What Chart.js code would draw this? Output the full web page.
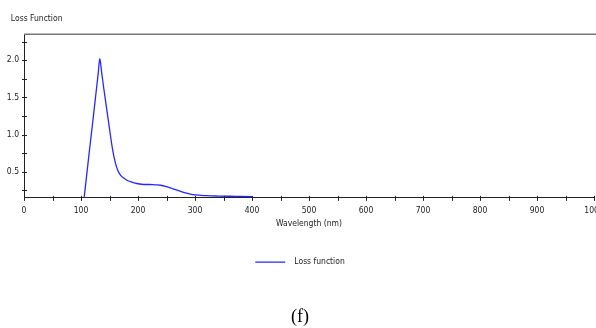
<!DOCTYPE html>
<html>
<head>
<meta charset="utf-8">
<script src="https://cdn.jsdelivr.net/npm/chart.js@4"></script>
<style>
  html, body { margin: 0; padding: 0; background: #fff; }
  #wrap { width: 596px; height: 328px; }
</style>
</head>
<body>
<div id="wrap"><canvas id="loss"></canvas></div>
<script>
// Wavelength (nm) and loss function values
const wavelength = [100, 105, 110, 115, 120, 125, 130, 133, 136, 140, 145, 150, 155, 160, 165, 170, 180, 190, 200, 210, 220, 230, 240, 250, 260, 270, 280, 290, 300, 320, 340, 360, 380, 400];
const lossValues = [-0.2, 0.12, 0.46, 0.8, 1.13, 1.47, 1.81, 2.02, 1.85, 1.62, 1.35, 1.08, 0.82, 0.63, 0.51, 0.45, 0.39, 0.36, 0.34, 0.33, 0.33, 0.325, 0.32, 0.3, 0.275, 0.25, 0.225, 0.205, 0.19, 0.18, 0.175, 0.172, 0.17, 0.168];

// Tick positions
const xTicks = [0, 50, 100, 150, 200, 250, 300, 350, 400, 450, 500, 550, 600, 650, 700, 750, 800, 850, 900, 950, 1000];
const yTicks = [0.25, 0.5, 0.75, 1.0, 1.25, 1.5, 1.75, 2.0, 2.25];

const uiFont = "Tahoma, 'DejaVu Sans Condensed', 'DejaVu Sans', sans-serif";

// axis ticks that cross the axis line, plus the frame's top edge
const crossTicks = {
  id: "crossTicks",
  afterDraw(chart) {
    const { ctx, chartArea, scales } = chart;
    ctx.save();
    ctx.strokeStyle = "#777";
    ctx.lineWidth = 1.5;
    ctx.beginPath();
    ctx.moveTo(chartArea.left, chartArea.top);
    ctx.lineTo(chart.width, chartArea.top);
    ctx.stroke();

    ctx.strokeStyle = "#222";
    ctx.lineWidth = 1;
    ctx.beginPath();
    scales.x.ticks.forEach((t) => {
      const px = Math.round(scales.x.getPixelForValue(t.value)) + 0.5;
      ctx.moveTo(px, chartArea.bottom - 2);
      ctx.lineTo(px, chartArea.bottom + 3);
    });
    scales.y.ticks.forEach((t) => {
      const py = Math.round(scales.y.getPixelForValue(t.value)) + 0.5;
      ctx.moveTo(chartArea.left - 2, py);
      ctx.lineTo(chartArea.left + 3, py);
    });
    ctx.stroke();
    ctx.restore();
  },
};

new Chart(document.getElementById("loss"), {
  type: "line",
  data: {
    datasets: [
      {
        label: "Loss function",
        data: wavelength.map((w, i) => ({ x: w, y: lossValues[i] })),
        borderColor: "#2626ff",
        backgroundColor: "#2626ff",
        borderWidth: 1.3,
        pointRadius: 0,
        cubicInterpolationMode: "monotone",
        fill: false,
      },
    ],
  },
  options: {
    responsive: true,
    maintainAspectRatio: false,
    animation: false,
    layout: { padding: { left: 6, right: 2, top: 0, bottom: 0 } },
    scales: {
      x: {
        type: "linear",
        min: 0,
        max: 1000,
        afterBuildTicks: (s) => { s.ticks = xTicks.map((v) => ({ value: v })); },
        afterFit: (s) => { s.paddingLeft = 0; s.paddingRight = 0; s.height = 31; },
        grid: { drawOnChartArea: false, drawTicks: false },
        border: { color: "#222", width: 1 },
        ticks: {
          padding: 8,
          maxRotation: 0,
          autoSkip: false,
          color: "#222",
          font: { family: uiFont, size: 8.5 },
          callback: (v) => (v % 100 === 0 ? String(v) : ""),
        },
        title: {
          display: true,
          text: "Wavelength (nm)",
          color: "#222",
          font: { family: uiFont, size: 8.5 },
          padding: { top: 4, bottom: 0 },
        },
      },
      y: {
        min: 0.15,
        max: 2.35,
        afterBuildTicks: (s) => { s.ticks = yTicks.map((v) => ({ value: v })); },
        afterFit: (s) => { s.width = 18; },
        grid: { drawOnChartArea: false, drawTicks: false },
        border: { color: "#222", width: 1 },
        ticks: {
          padding: 5,
          color: "#222",
          font: { family: uiFont, size: 8.5 },
          callback: (v) => (Math.abs(v * 2 - Math.round(v * 2)) < 1e-9 ? v.toFixed(1) : ""),
        },
      },
    },
    plugins: {
      title: {
        display: true,
        text: "  Loss Function",
        align: "start",
        color: "#222",
        font: { family: uiFont, size: 8.5, weight: "normal" },
        padding: { top: 14, bottom: 10 },
      },
      subtitle: {
        display: true,
        position: "bottom",
        text: "(f)",
        color: "#000",
        font: { family: "'Liberation Serif', serif", size: 18 },
        padding: { top: 30, bottom: 0 },
      },
      legend: {
        position: "bottom",
        labels: {
          usePointStyle: true,
          pointStyle: "line",
          pointStyleWidth: 30,
          boxHeight: 8,
          padding: 29,
          color: "#222",
          font: { family: uiFont, size: 8.5 },
          generateLabels: (chart) =>
            Chart.defaults.plugins.legend.labels
              .generateLabels(chart)
              .map((l) => ({ ...l, text: "  " + l.text })),
        },
      },
      tooltip: { enabled: false },
    },
  },
  plugins: [crossTicks],
});
</script>
</body>
</html>
